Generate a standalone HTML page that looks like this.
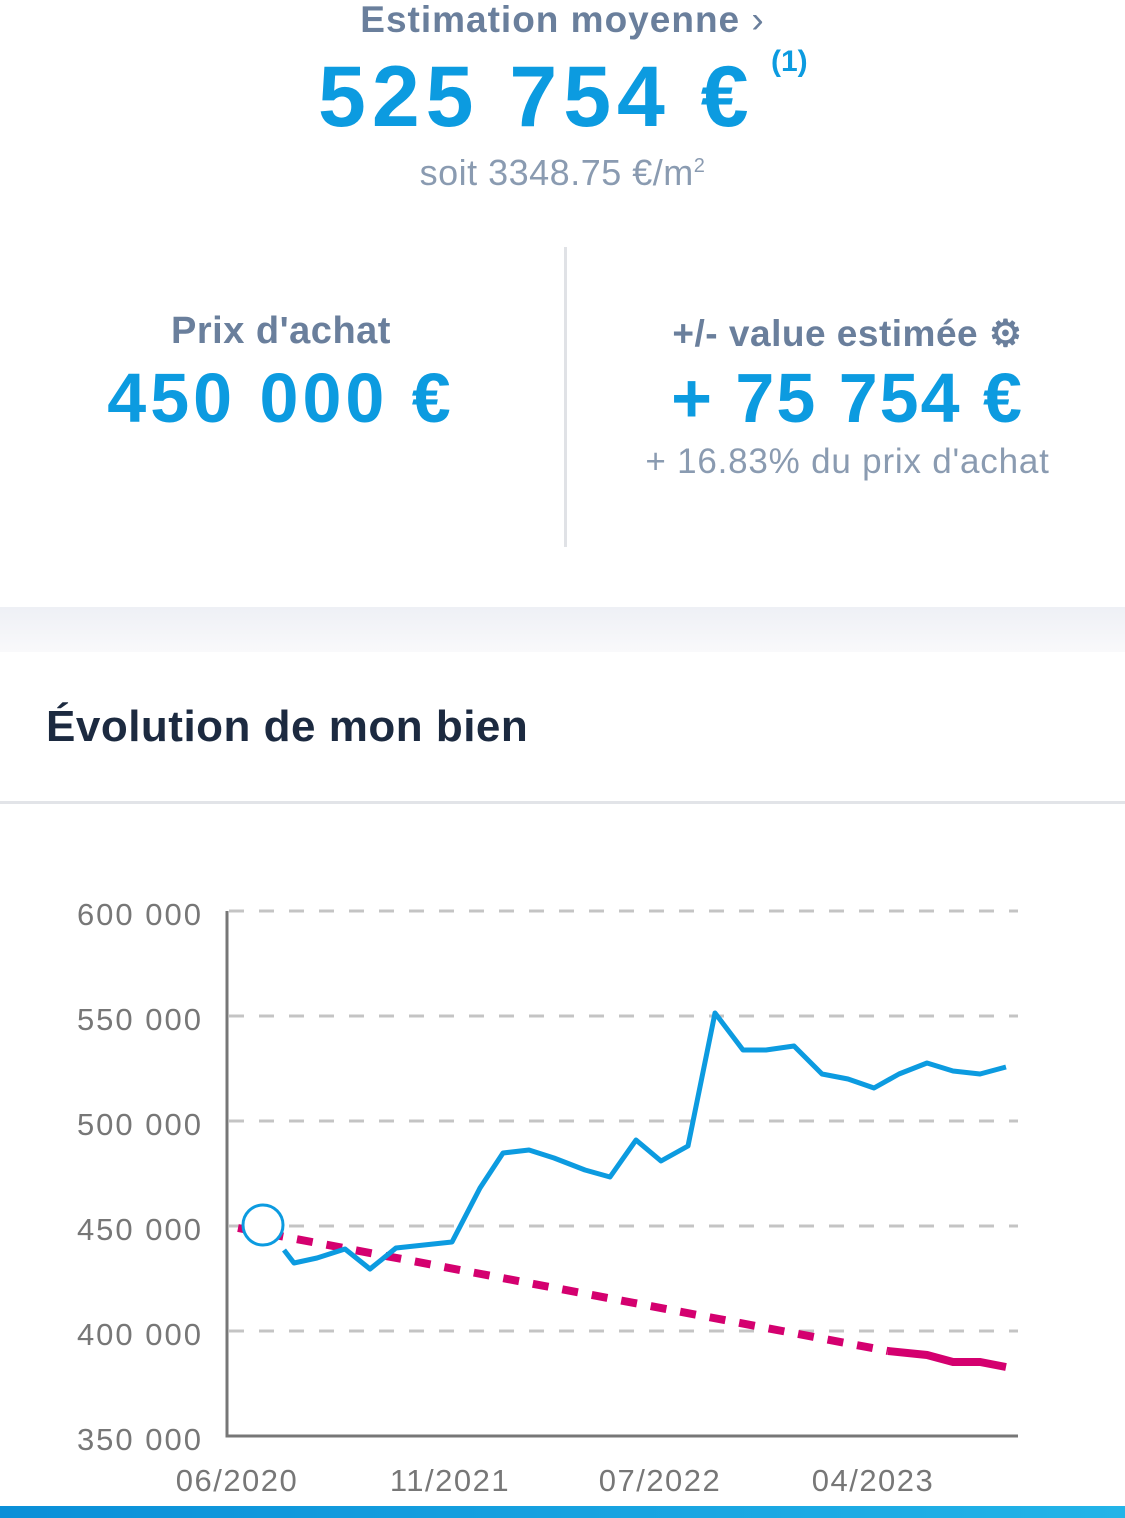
<!DOCTYPE html>
<html><head><meta charset="utf-8"><style>
html,body{margin:0;padding:0;width:1125px;height:1518px;overflow:hidden;background:#fff;font-family:"Liberation Sans",sans-serif;position:relative}
.a{position:absolute;white-space:nowrap}
</style></head><body>
<div class="a" style="left:0;top:0;width:1125px;text-align:center;font-size:37px;font-weight:bold;color:#6a7f9c;line-height:40px;letter-spacing:1px">Estimation moyenne <span style="font-weight:normal">›</span></div>
<div class="a" style="left:318px;top:52px;font-size:86px;font-weight:bold;color:#0c9be0;line-height:90px;letter-spacing:6px">525 754 €</div>
<div class="a" style="left:771px;top:45px;font-size:30px;font-weight:bold;color:#0c9be0">(1)</div>
<div class="a" style="left:0;width:1125px;text-align:center;top:152px;font-size:36px;color:#8a9bb1;letter-spacing:0.5px">soit 3348.75 €/m<sup style="font-size:20px">2</sup></div>
<div class="a" style="left:564px;top:247px;width:3px;height:300px;background:#e0e2e6"></div>
<div class="a" style="left:0;width:562px;text-align:center;top:310px;font-size:38px;font-weight:bold;color:#6a7f9c;letter-spacing:0.5px">Prix d'achat</div>
<div class="a" style="left:0;width:562px;text-align:center;top:358px;font-size:70px;font-weight:bold;color:#0c9be0;letter-spacing:4px">450 000 €</div>
<div class="a" style="left:570px;width:555px;text-align:center;top:312px;font-size:37px;font-weight:bold;color:#6a7f9c;letter-spacing:0.5px">+/- value estimée <span style="color:#6a7f9c">⚙</span></div>
<div class="a" style="left:570px;width:555px;text-align:center;top:358px;font-size:70px;font-weight:bold;color:#0c9be0;letter-spacing:2px">+ 75 754 €</div>
<div class="a" style="left:570px;width:555px;text-align:center;top:442px;font-size:35px;color:#8a9bb1;letter-spacing:0.8px">+ 16.83% du prix d'achat</div>
<div class="a" style="left:0;top:607px;width:1125px;height:45px;background:linear-gradient(#eef0f5,#f9f9fb)"></div>
<div class="a" style="left:46px;top:702px;font-size:44px;font-weight:bold;color:#1c2a40;letter-spacing:0.5px">Évolution de mon bien</div>
<div class="a" style="left:0;top:801px;width:1125px;height:3px;background:#e2e4e8"></div>
<svg class="a" style="left:0;top:0" width="1125" height="1518">
<g stroke="#c4c4c4" stroke-width="3" stroke-dasharray="15,15">
<line x1="229" y1="911" x2="1018" y2="911"/><line x1="229" y1="1016" x2="1018" y2="1016"/><line x1="229" y1="1121" x2="1018" y2="1121"/><line x1="229" y1="1226" x2="1018" y2="1226"/><line x1="229" y1="1331" x2="1018" y2="1331"/>
</g>
<path d="M227 911V1436H1018" fill="none" stroke="#777" stroke-width="3"/>
<g font-family="Liberation Sans,sans-serif" font-size="31" fill="#777" text-anchor="end" letter-spacing="2">
<text x="203" y="925">600 000</text><text x="203" y="1030">550 000</text><text x="203" y="1135">500 000</text><text x="203" y="1240">450 000</text><text x="203" y="1345">400 000</text><text x="203" y="1450">350 000</text>
</g>
<g font-family="Liberation Sans,sans-serif" font-size="31" fill="#777" text-anchor="middle" letter-spacing="1.5">
<text x="237" y="1491">06/2020</text><text x="450" y="1491">11/2021</text><text x="660" y="1491">07/2022</text><text x="873" y="1491">04/2023</text>
</g>
<path d="M238 1228L888 1351" stroke="#d4006f" stroke-width="8" stroke-dasharray="16,14" fill="none"/>
<path d="M888 1351L927 1355L953 1362L980 1362L1006 1367" stroke="#d4006f" stroke-width="8" fill="none"/>
<polyline fill="none" stroke="#0c9be0" stroke-width="5" stroke-linejoin="round" points="284,1250 294,1263 317,1258 345,1249 370,1269 396,1248 424,1245 452,1242 480,1188 503,1153 529,1150 554,1158 585,1170 610,1177 636,1140 661,1161 688,1146 715,1013 743,1050 766,1050 794,1046 822,1074 848,1079 874,1088 899,1074 927,1063 953,1071 980,1074 1006,1067"/>
<circle cx="263" cy="1225" r="20" fill="#fff" stroke="#0c9be0" stroke-width="3"/>
</svg>
<div class="a" style="left:0;top:1506px;width:1125px;height:12px;background:linear-gradient(90deg,#0a8fd8,#23b4e8)"></div>
</body></html>
